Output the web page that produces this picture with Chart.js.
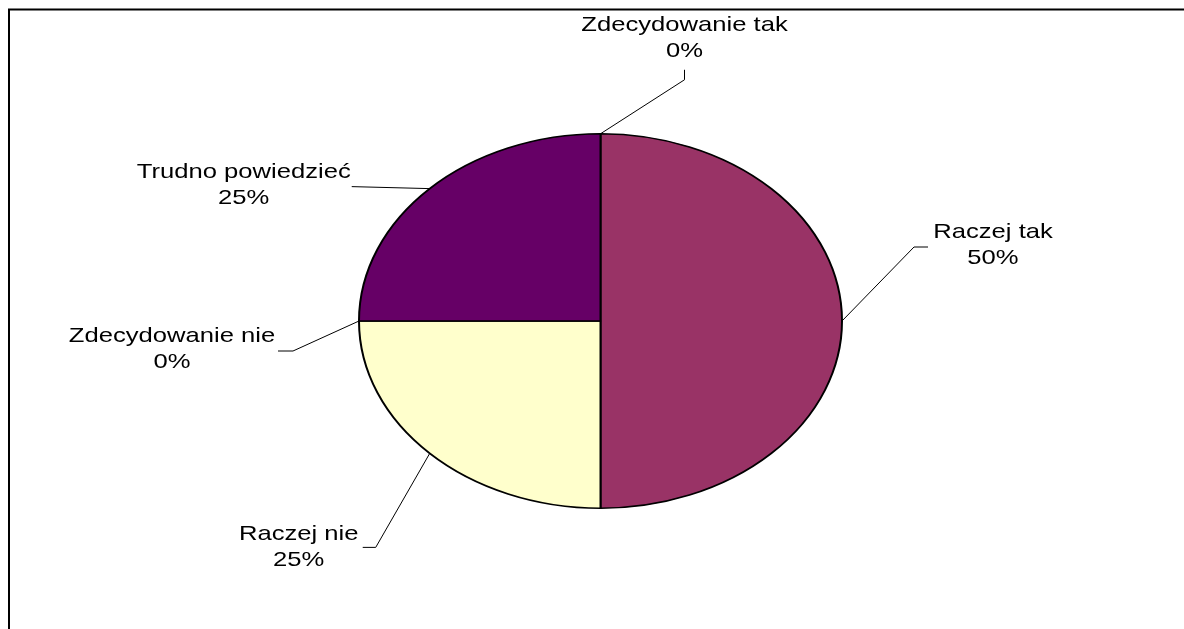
<!DOCTYPE html>
<html>
<head>
<meta charset="utf-8">
<script src="https://cdn.jsdelivr.net/npm/chart.js@4/dist/chart.umd.min.js"></script>
<style>
  html, body { margin: 0; padding: 0; background: #fff; }
  #wrap { width: 1184px; height: 629px; }
</style>
</head>
<body>
<div id="wrap"><canvas id="pieChart"></canvas></div>
<script>
// dane
var categories = ["Zdecydowanie tak", "Raczej tak", "Raczej nie", "Zdecydowanie nie", "Trudno powiedzieć"];
var percents = [0, 50, 25, 0, 25];
var sliceColors = ['#9999FF', '#993366', '#FFFFCC', '#CCFFFF', '#660066'];

// gdzie stoja etykiety wzgledem brzegu elipsy (lamanie linii, koniec linii, srodek tekstu)
var labelLayout = [
    { elbow: [84, -54], end: [84, -64], text: [84, -96] },
    { elbow: [72, -74], end: [86, -74], text: [151, -76] },
    { elbow: [-54, 94], end: [-67, 94], text: [-131, 94] },
    { elbow: [-66, 30], end: [-81, 30], text: [-187, 28] },
    { elbow: [-78, -2], end: [-78, -2], text: [-186, -3] }
];

var yScale = 188 / 242.5;   // splaszczenie kola do elipsy
var textStretch = 1.22;

var ellipsePlugin = {
    id: 'ellipse',
    beforeDraw: function (chart) {
        var ctx = chart.ctx;
        ctx.save();
        ctx.strokeStyle = '#000';
        ctx.lineWidth = 2;
        ctx.beginPath();
        ctx.moveTo(9, 629);
        ctx.lineTo(9, 9.5);
        ctx.lineTo(1184, 9.5);
        ctx.stroke();
        ctx.restore();
    },
    beforeDatasetsDraw: function (chart) {
        var arc = chart.getDatasetMeta(0).data[0];
        var ctx = chart.ctx;
        ctx.save();
        ctx.translate(arc.x, arc.y);
        ctx.scale(1, yScale);
        ctx.translate(-arc.x, -arc.y);
    },
    afterDatasetsDraw: function (chart) {
        var ctx = chart.ctx;
        ctx.restore();

        var arcs = chart.getDatasetMeta(0).data;
        ctx.save();
        ctx.font = '21px "Liberation Sans", Arial, sans-serif';
        ctx.fillStyle = '#000';
        ctx.textAlign = 'center';
        ctx.textBaseline = 'middle';
        ctx.strokeStyle = '#000';
        ctx.lineWidth = 1;
        arcs.forEach(function (arc, i) {
            var a = (arc.startAngle + arc.endAngle) / 2;
            var ex = arc.x + arc.outerRadius * Math.cos(a);
            var ey = arc.y + arc.outerRadius * yScale * Math.sin(a);
            var lay = labelLayout[i];
            ctx.beginPath();
            ctx.moveTo(ex, ey);
            ctx.lineTo(ex + lay.elbow[0], ey + lay.elbow[1]);
            ctx.lineTo(ex + lay.end[0], ey + lay.end[1]);
            ctx.stroke();

            var lines = [categories[i], percents[i] + '%'];
            ctx.save();
            ctx.translate(ex + lay.text[0], ey + lay.text[1]);
            ctx.scale(textStretch, 1);
            ctx.fillText(lines[0], 0, -13);
            ctx.fillText(lines[1], 0, 13);
            ctx.restore();
        });
        ctx.restore();
    }
};

var canvasElement = document.getElementById("pieChart");
var config = {
    type: 'pie',
    data: {
        labels: categories,
        datasets: [{
            data: percents,
            backgroundColor: sliceColors,
            borderColor: '#000',
            borderWidth: 2
        }]
    },
    options: {
        responsive: true,
        maintainAspectRatio: false,
        animation: false,
        events: [],
        layout: {
            padding: { left: 358, right: 341, top: 78.5, bottom: 65.5 }
        },
        plugins: {
            legend: { display: false },
            tooltip: { enabled: false }
        }
    },
    plugins: [ellipsePlugin]
};

var pieChart = new Chart(canvasElement, config);
</script>
</body>
</html>
